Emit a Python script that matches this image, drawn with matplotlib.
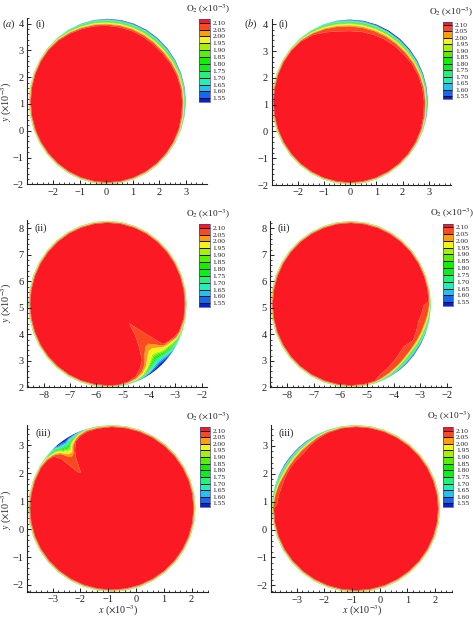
"""
O2 concentration contours on a circular section, two columns of three panels.
Each panel keeps a rim table read off the picture: at every angle the value at
the edge and the depth (fraction of radius) where O2 reaches 1.95, 2.05, 2.10.
"""
import numpy as np
import matplotlib
matplotlib.use("Agg")
import matplotlib.pyplot as plt
import matplotlib.ticker as mticker

plt.rcParams["font.family"] = ["Liberation Serif", "DejaVu Serif"]
plt.rcParams["mathtext.fontset"] = "stix"

W, H = 473, 617
INK = "#222222"

levels = [1.55, 1.60, 1.65, 1.70, 1.75, 1.80, 1.85, 1.90, 1.95, 2.00, 2.05, 2.10]
band_colors = ["#0a1fd0", "#1668f0", "#25c0f0", "#22eeb8", "#25f078", "#0cf018", "#10f000",
               "#58f000", "#a8f000", "#f4f41c", "#ff9c10", "#fb4a20", "#fb1a24"]

# the thin rim found all round each circle, angles come from the 10 degree ring
rim_edge, rim_195, rim_205, rim_210 = 1.70, 0.008, 0.016, 0.024

# (a)(i)
a1_ang  = [-50, -40, -30, -20, -10, 0, 10, 20, 30, 40, 50, 60, 70, 80, 90, 100, 110, 120, 130, 140]
a1_edge = [1.62, 1.60, 1.60, 1.58, 1.54, 1.50, 1.50, 1.50, 1.50, 1.50, 1.50, 1.50, 1.50, 1.50, 1.52, 1.55, 1.58, 1.62, 1.66, 1.70]
a1_195  = [.008, .010, .010, .012, .018, .022, .026, .032, .042, .052, .056, .056, .054, .052, .050, .044, .038, .028, .016, .010]
a1_205  = [.016, .018, .020, .024, .030, .036, .040, .048, .060, .072, .076, .076, .074, .072, .070, .062, .052, .040, .026, .018]
a1_210  = [.024, .026, .028, .032, .040, .045, .050, .060, .075, .090, .095, .095, .092, .090, .085, .075, .065, .050, .035, .026]

# (a)(ii)
a2_ang  = [-82, -75, -68, -62, -57, -52, -47, -43, -40, -37, -34.5, -30, -25, -20, -12]
a2_edge = [1.65, 1.60, 1.55, 1.50, 1.48, 1.48, 1.48, 1.50, 1.52, 1.55, 1.58, 1.60, 1.62, 1.65, 1.68]
a2_195  = [.010, .014, .020, .040, .080, .130, .170, .150, .120, .100, .090, .060, .030, .015, .010]
a2_205  = [.014, .020, .040, .080, .140, .240, .300, .300, .250, .180, .130, .100, .050, .030, .020]
a2_210  = [.020, .030, .060, .127, .200, .360, .490, .600, .640, .450, .150, .110, .070, .040, .030]

# (a)(iii)
a3_ang  = [100, 108, 114, 118, 122, 125, 128, 130.5, 133, 135.5, 138, 143, 150]
a3_edge = [1.70, 1.60, 1.50, 1.48, 1.48, 1.48, 1.50, 1.50, 1.55, 1.60, 1.62, 1.65, 1.70]
a3_195  = [.010, .012, .030, .060, .090, .150, .130, .110, .070, .050, .040, .012, .008]
a3_205  = [.020, .022, .045, .075, .130, .200, .220, .180, .110, .080, .055, .030, .016]
a3_210  = [.028, .035, .058, .090, .170, .250, .360, .430, .410, .160, .070, .040, .024]

# (b)(i)
b1_ang  = [-40, -30, -20, -10, 0, 10, 20, 30, 40, 50, 60, 70, 80, 90, 100, 110, 120, 130, 140]
b1_edge = [1.62, 1.60, 1.56, 1.50, 1.47, 1.46, 1.46, 1.46, 1.46, 1.46, 1.46, 1.48, 1.50, 1.52, 1.56, 1.60, 1.64, 1.68, 1.70]
b1_195  = [.008, .010, .012, .016, .022, .026, .034, .042, .052, .058, .060, .060, .058, .056, .050, .040, .028, .016, .010]
b1_205  = [.016, .018, .022, .028, .034, .040, .050, .060, .072, .080, .084, .086, .086, .084, .074, .060, .042, .026, .018]
b1_210  = [.026, .028, .032, .040, .050, .055, .065, .080, .100, .110, .120, .130, .135, .140, .130, .100, .060, .036, .026]

# (b)(ii)
b2_ang  = [-80, -72, -67, -60, -52, -45, -38, -29, -21, -14, -8, -1, 2]
b2_edge = [1.68, 1.65, 1.60, 1.55, 1.50, 1.50, 1.50, 1.50, 1.55, 1.60, 1.65, 1.70, 1.70]
b2_195  = [.008, .012, .020, .030, .045, .055, .060, .050, .040, .030, .020, .012, .008]
b2_205  = [.016, .020, .030, .045, .060, .070, .075, .070, .060, .050, .035, .022, .016]
b2_210  = [.024, .030, .075, .100, .128, .150, .166, .110, .120, .130, .110, .090, .030]

# (b)(iii)
b3_ang  = [100, 110, 118, 126, 133, 141, 148, 156, 163, 170, 177]
b3_edge = [1.70, 1.60, 1.55, 1.50, 1.50, 1.50, 1.50, 1.55, 1.60, 1.65, 1.68]
b3_195  = [.010, .015, .025, .035, .040, .045, .045, .040, .030, .020, .012]
b3_205  = [.018, .025, .035, .050, .055, .060, .060, .055, .040, .030, .020]
b3_210  = [.025, .035, .050, .070, .090, .085, .080, .080, .080, .070, .060]

# per panel: circle (cx, cy, rx, ry), x range, y range
panels = [
    dict(table=(a1_ang, a1_edge, a1_195, a1_205, a1_210), circle=(0.04, 1.09, 2.96, 3.09),
         xlim=(-2.98, 3.79), ylim=(-2.0, 4.2), box=(27.3, 206.7, 18.3, 184.3),
         cbar=(199.3, 210, 19.3, 101.7), title=(208, 9), tag="(i)", tag_xy=(40, 24.6)),
    dict(table=(a2_ang, a2_edge, a2_195, a2_205, a2_210), circle=(-5.58, 5.14, 3.01, 3.14),
         xlim=(-8.63, -1.81), ylim=(2.0, 8.31), box=(27.3, 206.7, 220, 387.3),
         cbar=(199.3, 210, 224.3, 306.7), title=(208, 214), tag="(ii)", tag_xy=(41, 228)),
    dict(table=(a3_ang, a3_edge, a3_195, a3_205, a3_210), circle=(-0.87, 0.745, 3.01, 2.985),
         xlim=(-3.91, 2.6), ylim=(-2.24, 3.73), box=(27.3, 208.3, 425, 591.7),
         cbar=(200, 210, 427.3, 506.7), title=(208, 417), tag="(iii)", tag_xy=(43, 433)),
    dict(table=(b1_ang, b1_edge, b1_195, b1_205, b1_210), circle=(-0.01, 1.1, 2.97, 3.08),
         xlim=(-2.99, 3.83), ylim=(-2.0, 4.19), box=(271.5, 450.7, 19.3, 185),
         cbar=(443.3, 452.3, 21.7, 99.3), title=(450.7, 12), tag="(i)", tag_xy=(283, 24.6)),
    dict(table=(b2_ang, b2_edge, b2_195, b2_205, b2_210), circle=(-5.61, 5.14, 3.01, 3.14),
         xlim=(-8.65, -1.85), ylim=(2.0, 8.28), box=(270, 450.7, 221, 387.3),
         cbar=(442.7, 453.3, 223.7, 305.7), title=(451.5, 213), tag="(ii)", tag_xy=(284, 228)),
    dict(table=(b3_ang, b3_edge, b3_195, b3_205, b3_210), circle=(-0.86, 0.75, 3.04, 3.0),
         xlim=(-3.94, 2.61), ylim=(-2.25, 3.75), box=(270.7, 452, 425, 592.3),
         cbar=(443, 453.3, 427.3, 506.7), title=(449, 416), tag="(iii)", tag_xy=(286, 433)),
]


def rect(left, right, top, bottom):
    return [left / W, 1 - bottom / H, (right - left) / W, (bottom - top) / H]


def label(fig, x, y, text, size=7.5, **kw):
    fig.text(x / W, 1 - y / H, text, fontsize=size, color=INK, ha="center", va="center", **kw)


def rim_table(table):
    # the ring outside the read span stays at the thin rim values
    ang, edge, d195, d205, d210 = [np.asarray(c, float) for c in table]
    ring = np.arange(-180, 181, 10.0)
    ring = ring[(ring < ang.min()) | (ring > ang.max())]
    n = len(ring)
    a = np.concatenate([ring, ang])
    order = np.argsort(a)
    rows = [np.concatenate([np.full(n, r), c])[order] for r, c in
            zip((rim_edge, rim_195, rim_205, rim_210), (edge, d195, d205, d210))]
    return a[order], rows


def draw_panel(fig, p):
    ax = fig.add_axes(rect(*p["box"]))
    ang, (edge, d195, d205, d210) = rim_table(p["table"])
    cx, cy, rx, ry = p["circle"]
    t = np.radians(ang)
    depth = np.vstack([np.zeros_like(ang), d195, d205, d210, np.ones_like(ang)])
    X = cx + rx * (1 - depth) * np.cos(t)
    Y = cy + ry * (1 - depth) * np.sin(t)
    one = np.ones_like(ang)
    Z = np.vstack([edge, 1.95 * one, 2.05 * one, 2.10 * one, 2.2 * one])
    cs = ax.contourf(X, Y, Z, levels=levels, colors=band_colors, extend="both", antialiased=True)

    ax.set_xlim(p["xlim"])
    ax.set_ylim(p["ylim"])
    ax.patch.set_alpha(0)
    ax.spines["top"].set_visible(False)
    ax.spines["right"].set_visible(False)
    for s in ("left", "bottom"):
        ax.spines[s].set_linewidth(0.8)
        ax.spines[s].set_color(INK)
    for axis in (ax.xaxis, ax.yaxis):
        axis.set_major_locator(mticker.MultipleLocator(1))
        axis.set_minor_locator(mticker.MultipleLocator(0.2))
    ax.tick_params(which="major", direction="in", length=3.2, width=0.7, labelsize=7.5,
                   pad=2.5, colors=INK)
    ax.tick_params(which="minor", direction="in", length=1.6, width=0.6, colors=INK)

    cax = fig.add_axes(rect(p["cbar"][0], p["cbar"][1], p["cbar"][2], p["cbar"][3]))
    cb = fig.colorbar(cs, cax=cax, ticks=levels, format="%.2f", drawedges=True,
                      extendrect=True, extendfrac=0.045)
    cb.dividers.set_color("#111111")
    cb.dividers.set_linewidth(0.7)
    cb.outline.set_linewidth(0.5)
    cb.outline.set_edgecolor("#444488")
    cax.tick_params(length=0, labelsize=5.4, pad=2, colors=INK)

    label(fig, p["title"][0], p["title"][1], r"O$_2$ ($\times$10$^{-3}$)", size=6.7)
    label(fig, p["tag_xy"][0], p["tag_xy"][1], p["tag"], size=7.5)


fig = plt.figure(figsize=(W / 100, H / 100), dpi=100, facecolor="white")
for p in panels:
    draw_panel(fig, p)

label(fig, 9, 24.5, r"($\mathit{a}$)", size=7.5)
label(fig, 251, 24.5, r"($\mathit{b}$)", size=7.5)
ylab = r"$\mathit{y}$ ($\times$10$^{-3}$)"
xlab = r"$\mathit{x}$ ($\times$10$^{-3}$)"
for y in (102, 303, 510):
    label(fig, 7, y, ylab, size=7.2, rotation=90)
label(fig, 118, 610.5, xlab, size=7.2)
label(fig, 362, 610.5, xlab, size=7.2)

fig.savefig("out.png", dpi=100, facecolor="white")
